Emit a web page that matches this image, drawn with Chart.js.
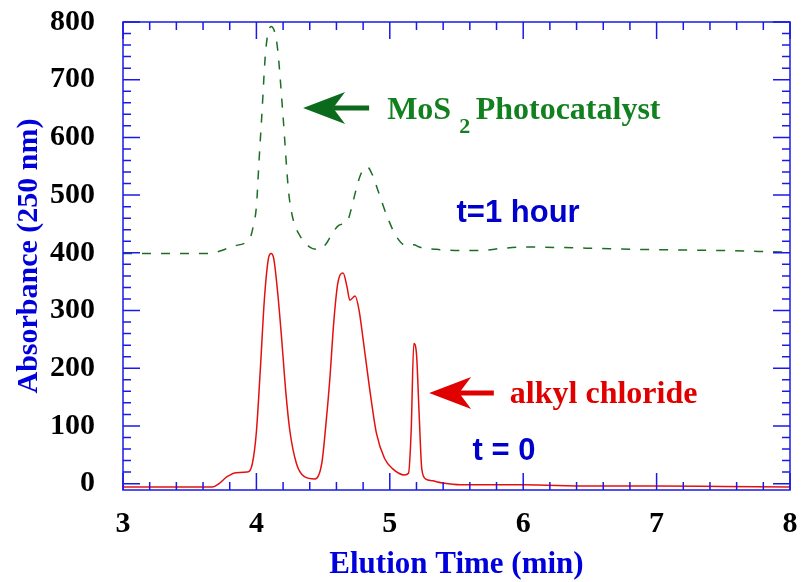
<!DOCTYPE html>
<html>
<head>
<meta charset="utf-8">
<script src="https://cdn.jsdelivr.net/npm/chart.js@4.4.1/dist/chart.umd.min.js"></script>
<style>
  body { margin: 0; background: #fff; }
  #wrap { width: 803px; height: 582px; }
</style>
</head>
<body>
<div id="wrap"><canvas id="chart" width="803" height="582"></canvas></div>
<script>
// elution time (min) and absorbance for the two runs
let timeStart = [3.0, 3.3, 3.67, 3.72, 3.78, 3.85, 3.93, 3.97, 4.0, 4.03, 4.06, 4.09, 4.11, 4.13, 4.16, 4.19, 4.22, 4.25, 4.30, 4.36, 4.44, 4.49, 4.52, 4.55, 4.58, 4.61, 4.65, 4.68, 4.70, 4.74, 4.77, 4.80, 4.83, 4.87, 4.90, 4.96, 5.02, 5.11, 5.14, 5.16, 5.18, 5.20, 5.22, 5.24, 5.27, 5.32, 5.40, 5.53, 6.0, 6.5, 7.0, 7.5, 8.0];
let absStart  = [-6, -6, -6, 0, 12, 19, 20, 35, 90, 200, 320, 390, 399, 390, 330, 249, 160, 93, 35, 12, 8, 35, 100, 180, 280, 347, 365, 340, 318, 325, 300, 250, 197, 130, 87, 44, 26, 15, 18, 90, 243, 225, 120, 25, 8, 5, 1, -2, -2, -4, -4, -5, -6];

let timeHour = [3.0, 3.65, 3.75, 3.83, 3.95, 3.98, 4.0, 4.02, 4.04, 4.07, 4.11, 4.14, 4.16, 4.20, 4.24, 4.27, 4.33, 4.40, 4.46, 4.52, 4.57, 4.62, 4.68, 4.71, 4.74, 4.78, 4.83, 4.87, 4.91, 4.98, 5.05, 5.12, 5.18, 5.22, 5.35, 5.68, 5.85, 6.0, 6.5, 6.83, 7.5, 8.0];
let absHour  = [399, 399, 405, 412, 425, 450, 480, 560, 636, 751, 792, 780, 751, 636, 509, 463, 428, 410, 406, 415, 434, 448, 454, 475, 503, 535, 549, 535, 509, 463, 428, 413, 414, 410, 406, 404, 408, 410, 408, 406, 404, 401];

let xTicks = [3, 4, 5, 6, 7, 8];
let yTicks = [0, 100, 200, 300, 400, 500, 600, 700, 800];

const BLUE = '#1a1ae6';

function pts(xs, ys) {
	let out = [];
	for (let i = 0; i < xs.length; i++) out.push({x: xs[i], y: ys[i]});
	return out;
}

// inward ticks on all four sides + frame
const frameTicks = {
	id: 'frameTicks',
	afterDraw(chart) {
		const ctx = chart.ctx;
		const a = chart.chartArea;
		const sx = chart.scales.x, sy = chart.scales.y;
		ctx.save();
		ctx.strokeStyle = BLUE;
		ctx.lineWidth = 1.5;
		ctx.strokeRect(a.left, a.top, a.right - a.left, a.bottom - a.top);
		ctx.beginPath();
		for (let i = 0; i <= 25; i++) {
			let v = 3 + i * 0.2;
			let px = sx.getPixelForValue(v);
			let len = (i % 5 === 0) ? 17 : 8;
			ctx.moveTo(px, a.bottom); ctx.lineTo(px, a.bottom - len);
			ctx.moveTo(px, a.top); ctx.lineTo(px, a.top + len);
		}
		for (let i = 0; i <= 40; i++) {
			let v = i * 20;
			let py = sy.getPixelForValue(v);
			let len = (i % 5 === 0) ? 17 : 8;
			ctx.moveTo(a.left, py); ctx.lineTo(a.left + len, py);
			ctx.moveTo(a.right, py); ctx.lineTo(a.right - len, py);
		}
		ctx.stroke();
		ctx.restore();
	}
};

function arrow(ctx, x0, x1, y, color) {
	// tail at x0, tip at x1 (pointing left)
	ctx.save();
	ctx.strokeStyle = color;
	ctx.fillStyle = color;
	ctx.lineWidth = 5;
	ctx.beginPath();
	ctx.moveTo(x0, y); ctx.lineTo(x1 + 30, y);
	ctx.stroke();
	ctx.beginPath();
	ctx.moveTo(x1, y);
	ctx.lineTo(x1 + 42, y - 16);
	ctx.lineTo(x1 + 30, y);
	ctx.lineTo(x1 + 42, y + 16);
	ctx.closePath();
	ctx.fill();
	ctx.restore();
}

const notes = {
	id: 'notes',
	afterDraw(chart) {
		const ctx = chart.ctx;
		const sx = chart.scales.x, sy = chart.scales.y;
		const X = v => sx.getPixelForValue(v);
		const Y = v => sy.getPixelForValue(v);
		ctx.save();
		arrow(ctx, X(4.845), X(4.35), Y(651), '#0b6a1c');
		arrow(ctx, X(5.78), X(5.295), Y(157), '#e00000');

		ctx.textBaseline = 'alphabetic';
		ctx.textAlign = 'left';
		ctx.fillStyle = '#12801f';
		ctx.font = 'bold 32px "Liberation Serif"';
		let x = X(4.98), base = Y(651) + 11;
		ctx.fillText('MoS', x, base);
		x += ctx.measureText('MoS ').width;
		ctx.font = 'bold 22px "Liberation Serif"';
		ctx.fillText('2', x, base + 14);
		x += ctx.measureText('2 ').width;
		ctx.font = 'bold 32px "Liberation Serif"';
		ctx.fillText('Photocatalyst', x, base);

		ctx.fillStyle = '#e00000';
		ctx.fillText('alkyl chloride', X(5.90), Y(157) + 10);

		ctx.fillStyle = '#0000cc';
		ctx.font = 'bold 31px "Liberation Sans"';
		ctx.textBaseline = 'middle';
		ctx.fillText('t=1 hour', X(5.50), Y(469));
		ctx.fillText('t = 0', X(5.62), Y(55));
		ctx.restore();
	}
};

new Chart(document.getElementById('chart'), {
	type: 'line',
	data: {
		datasets: [{
			label: 't = 0',
			data: pts(timeStart, absStart),
			borderColor: '#e41010',
			borderWidth: 1.5,
			pointRadius: 0,
			cubicInterpolationMode: 'monotone',
			fill: false
		}, {
			label: 't = 1 hour',
			data: pts(timeHour, absHour),
			borderColor: '#1b6e24',
			borderWidth: 1.5,
			borderDash: [9, 10],
			pointRadius: 0,
			cubicInterpolationMode: 'monotone',
			fill: false
		}]
	},
	options: {
		responsive: false,
		animation: false,
		layout: { padding: { top: 22, right: 13, left: 0, bottom: 0 } },
		plugins: { legend: { display: false }, tooltip: { enabled: false } },
		scales: {
			x: {
				type: 'linear', min: 3, max: 8,
				grid: { display: false, drawTicks: false },
				border: { display: false },
				afterBuildTicks: s => { s.ticks = xTicks.map(v => ({value: v})); },
				afterFit: s => { s.height = 92; s.paddingLeft = 0; s.paddingRight = 0; },
				ticks: { color: '#000', padding: 16, font: { family: 'Liberation Serif', weight: 'bold', size: 30 } },
				title: { display: true, text: 'Elution Time (min)', color: '#0000dd', padding: { top: 0, bottom: 0 },
					font: { family: 'Liberation Serif', weight: 'bold', size: 31, lineHeight: 1.1 } }
			},
			y: {
				min: -11, max: 800,
				grid: { display: false, drawTicks: false },
				border: { display: false },
				afterBuildTicks: s => { s.ticks = yTicks.map(v => ({value: v})); },
				afterFit: s => { s.width = 123; s.paddingTop = 0; s.paddingBottom = 0; },
				ticks: { color: '#000', padding: 28, font: { family: 'Liberation Serif', weight: 'bold', size: 30 } },
				title: { display: true, text: 'Absorbance (250 nm)', color: '#0000dd', padding: { top: 13, bottom: 0 },
					font: { family: 'Liberation Serif', weight: 'bold', size: 30, lineHeight: 1.1 } }
			}
		}
	},
	plugins: [frameTicks, notes]
});
</script>
</body>
</html>
